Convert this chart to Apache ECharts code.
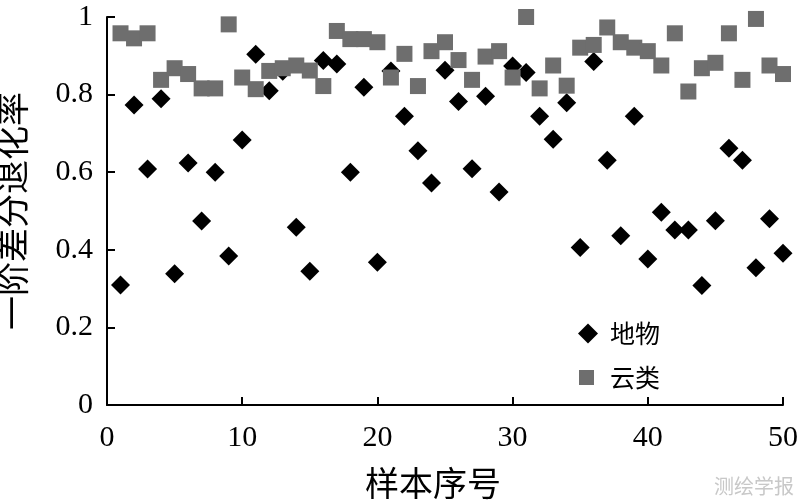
<!DOCTYPE html>
<html>
<head>
<meta charset="utf-8">
<script src="https://cdn.jsdelivr.net/npm/echarts@6/dist/echarts.min.js"></script>
<style>
html,body{margin:0;padding:0;background:#fff;}
#chart{width:800px;height:504px;}
</style>
</head>
<body>
<div id="chart"></div>
<script>
const sampleNo = [1,2,3,4,5,6,7,8,9,10,11,12,13,14,15,16,17,18,19,20,21,22,23,24,25,26,27,28,29,30,31,32,33,34,35,36,37,38,39,40,41,42,43,44,45,46,47,48,49,50];
const groundValues = [0.309,0.773,0.608,0.789,0.338,0.624,0.474,0.600,0.384,0.683,
  0.904,0.810,0.860,0.458,0.345,0.888,0.879,0.600,0.819,0.368,
  0.861,0.744,0.655,0.572,0.863,0.782,0.609,0.796,0.549,0.874,
  0.857,0.744,0.685,0.779,0.406,0.885,0.631,0.436,0.744,0.376,
  0.497,0.451,0.451,0.308,0.475,0.662,0.631,0.354,0.480,0.391];
const cloudValues = [0.958,0.945,0.958,0.838,0.868,0.853,0.816,0.816,0.981,0.844,
  0.814,0.861,0.868,0.875,0.862,0.822,0.964,0.943,0.943,0.935,
  0.844,0.905,0.822,0.912,0.935,0.889,0.838,0.898,0.912,0.844,
  1.000,0.816,0.875,0.823,0.921,0.928,0.973,0.935,0.921,0.912,
  0.875,0.958,0.808,0.868,0.882,0.958,0.838,0.995,0.875,0.853];
const seriesNames = ['地物','云类'];
const xAxisName = '样本序号';
const yAxisName = '一阶差分退化率';
const watermark = '测绘学报';

const serif = '"Liberation Serif", "Times New Roman", "DejaVu Serif", serif';
const cjk = '"Noto Sans CJK SC", sans-serif';

const chart = echarts.init(document.getElementById('chart'), null, {renderer:'canvas'});
chart.setOption({
  animation:false,
  backgroundColor:'#fff',
  grid:{left:107,right:17,top:17,bottom:99,containLabel:false,outerBoundsMode:'none'},
  xAxis:{
    type:'value',min:0,max:50,interval:10,
    name:xAxisName,nameLocation:'middle',nameGap:61,
    nameTextStyle:{fontFamily:cjk,fontSize:34,color:'#000',padding:[0,24,0,0]},
    axisLine:{show:true,lineStyle:{color:'#000',width:2}},
    axisTick:{show:true,inside:true,length:8,lineStyle:{color:'#000',width:2}},
    axisLabel:{fontFamily:serif,fontSize:30,color:'#000',margin:18},
    splitLine:{show:false}
  },
  yAxis:{
    type:'value',min:0,max:1,interval:0.2,
    name:yAxisName,nameLocation:'middle',nameGap:78,nameRotate:90,
    nameTextStyle:{fontFamily:cjk,fontSize:34,color:'#000'},
    axisLine:{show:true,lineStyle:{color:'#000',width:2}},
    axisTick:{show:true,inside:true,length:8,lineStyle:{color:'#000',width:2}},
    axisLabel:{fontFamily:serif,fontSize:30,color:'#000',margin:14},
    splitLine:{show:false}
  },
  legend:[
    {orient:'vertical',left:573,top:316,itemWidth:20,itemHeight:20,
     textStyle:{fontFamily:cjk,fontSize:25,color:'#000',padding:[0,0,0,7]},
     data:[{name:seriesNames[0],icon:'diamond',itemStyle:{opacity:1}}]},
    {orient:'vertical',left:574,top:360,itemWidth:15,itemHeight:15,
     textStyle:{fontFamily:cjk,fontSize:25,color:'#000',padding:[0,0,0,11]},
     data:[{name:seriesNames[1],icon:'rect',itemStyle:{opacity:1}}]}
  ],
  graphic:[{type:'text',right:6,bottom:8,style:{text:watermark,fontFamily:cjk,fontSize:20,fill:'#c8c8c8'}}],
  series:[
    {name:seriesNames[0],type:'scatter',symbol:'diamond',symbolSize:19,
     itemStyle:{color:'#000',opacity:1},
     data:sampleNo.map((x,i)=>[x,groundValues[i]])},
    {name:seriesNames[1],type:'scatter',symbol:'rect',symbolSize:16,
     itemStyle:{color:'#6e6e6e',opacity:1},
     data:sampleNo.map((x,i)=>[x,cloudValues[i]])}
  ]
});
</script>
</body>
</html>
